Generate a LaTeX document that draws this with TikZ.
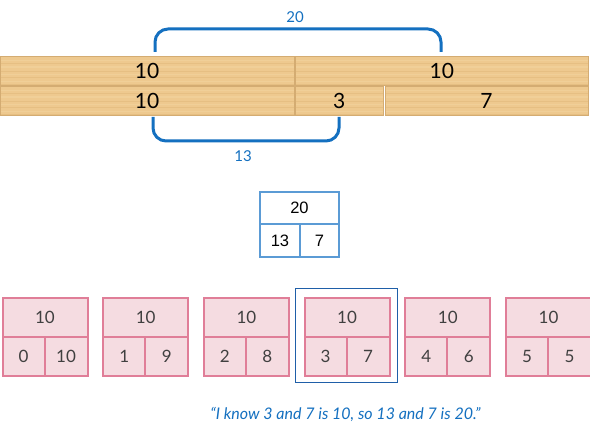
\documentclass[tikz,border=0pt]{standalone}
\usepackage{fontspec}
\setmainfont{Lato}
\newfontfamily\arialf{Liberation Sans}
\usetikzlibrary{calc}
\definecolor{bl}{HTML}{1470C0}
\definecolor{woodc}{HTML}{EEC98F}
\definecolor{woodd}{HTML}{D9AE6E}
\definecolor{woodl}{HTML}{F6DCAA}
\definecolor{woodb}{HTML}{D4AC72}
\definecolor{pwb}{HTML}{5B9BD5}
\definecolor{pkf}{HTML}{F5DCE1}
\definecolor{pkb}{HTML}{E07E98}
\definecolor{hb}{HTML}{1F5FA8}
\definecolor{gtx}{HTML}{404040}
\tikzset{
  wood/.style={fill=woodc, draw=woodb, line width=0.6pt, inner sep=0pt, anchor=north west,
    minimum height=29pt, font=\fontsize{21}{21}\selectfont,
    path picture={
      \foreach \f/\c/\w in {0.12/woodl/1.2,0.22/woodd/0.5,0.35/woodl/1.5,0.48/woodd/0.4,0.6/woodl/1.0,0.72/woodd/0.6,0.85/woodl/1.3,0.93/woodd/0.4}{
        \draw[\c, line width=\w pt, opacity=0.35]
          ($(path picture bounding box.north west)!\f!(path picture bounding box.south west)$) --
          ($(path picture bounding box.north east)!\f!(path picture bounding box.south east)$);
      }}},
  brk/.style={bl, line width=3pt, rounded corners=13pt},
  blab/.style={text=bl, font=\fontsize{15}{15}\selectfont},
  pwcell/.style={draw=pwb, line width=2pt, inner sep=0pt, anchor=north west, font=\arialf\fontsize{16.5}{16.5}\selectfont},
  pkcell/.style={draw=pkb, fill=pkf, line width=2pt, inner sep=0pt, anchor=north west, text=gtx, font=\fontsize{17}{17}\selectfont},
}
\begin{document}
\begin{tikzpicture}[x=1pt,y=-1pt]
\useasboundingbox[fill=white] (0,0) rectangle (590,435);
% wooden bars
\node[wood, minimum width=293.5pt] (t1) at (0,56.5) {10};
\node[wood, minimum width=293pt] (t2) at (295,56.5) {10};
\node[wood, minimum width=293.5pt] (b1) at (0,86.5) {10};
\node[wood, minimum width=88pt] (b2) at (295,86.5) {3};
\node[wood, minimum width=203.5pt] (b3) at (384.5,86.5) {7};
% brackets
\coordinate (ta) at (155,52);
\coordinate (tb) at (441,52);
\coordinate (ba) at (153,117);
\coordinate (bb) at (339,117);
\draw[brk] (ta) -- (155,29) -- (441,29) -- (tb);
\draw[brk] (ba) -- (153,141) -- (339,141) -- (bb);
\node[blab] (l20) at (295,17) {20};
\node[blab] (l13) at (243,156) {13};
% part-whole model
\node[pwcell, minimum width=79pt, minimum height=32pt] (pw) at (259,191) {20};
\node[pwcell, minimum width=40pt, minimum height=33pt] (pwl) at (259,223) {13};
\node[pwcell, minimum width=39pt, minimum height=33pt] (pwr) at (299,223) {7};
% pink part-whole models
\foreach \i/\a/\b in {0/0/10,1/1/9,2/2/8,3/3/7,4/4/6,5/5/5}{
  \pgfmathsetmacro{\xx}{1.5+\i*100.7}
  \node[pkcell, minimum width=85pt, minimum height=39pt] (w\i) at (\xx,297) {10};
  \node[pkcell, minimum width=42pt, minimum height=39pt] (p\i) at (\xx,336) {\a};
  \node[pkcell, minimum width=43pt, minimum height=39pt] (q\i) at (\xx+42,336) {\b};
}
% highlight
\node[draw=hb, line width=1pt, inner sep=0pt, minimum width=102pt, minimum height=94pt, anchor=north west] (hl) at (295,288) {};
% quote
\node[text=bl, font=\itshape\fontsize{16}{16}\selectfont] (qt) at (345.5,414) {“I know 3 and 7 is 10, so 13 and 7 is 20.”};
\end{tikzpicture}
\end{document}
